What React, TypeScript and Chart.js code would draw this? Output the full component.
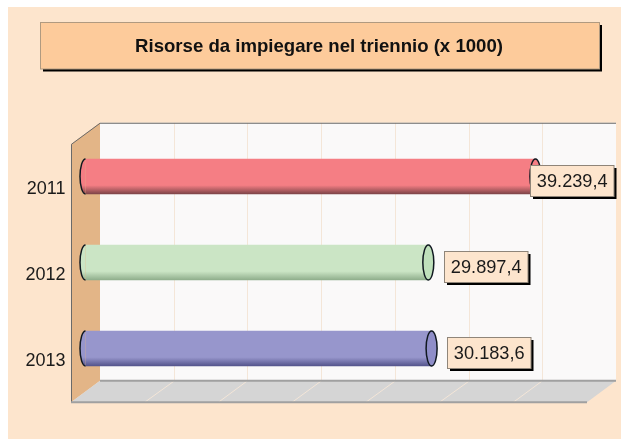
import React, { useEffect, useRef } from "react";
import { Chart, registerables } from "chart.js";

Chart.register(...registerables);

const titleText = "Risorse da impiegare nel triennio (x 1000)";
const categories = ["2011", "2012", "2013"];
const resources = [39239.4, 29897.4, 30183.6];
const valueLabels = ["39.239,4", "29.897,4", "30.183,6"];
const bodyColors = ["#f57e84", "#cbe5c5", "#9796cc"];
const edgeColors = ["#7d4448", "#8fae8c", "#54548c"];
const capColors = ["#f57e84", "#bfe0bb", "#8f8ec8"];
const axisMax = 45000;
const gridIntervals = 7;

const FONT = '"Liberation Sans", Arial, sans-serif';
const DEPTH_X = 14.5;
const DEPTH_Y = 10.75;

const scenePlugin = {
  id: "scene",
  beforeDraw(chart: any) {
    const { ctx, width, height, chartArea: a, scales } = chart;
    const backL = a.left + DEPTH_X, backR = a.right + DEPTH_X;
    const frontL = a.left - DEPTH_X, frontR = a.right - DEPTH_X;
    const top = a.top - DEPTH_Y, bottom = a.bottom - DEPTH_Y;
    const fTop = a.top + DEPTH_Y, fBottom = a.bottom + DEPTH_Y;
    ctx.save();
    ctx.fillStyle = "#ffffff";
    ctx.fillRect(0, 0, width, height);
    ctx.fillStyle = "#fde5cd";
    ctx.fillRect(8, 7, width - 8, height - 7);

    // title box
    ctx.fillStyle = "#000000";
    ctx.fillRect(43, 25, 559, 46.5);
    ctx.fillStyle = "#fdcb9b";
    ctx.strokeStyle = "#b09a80";
    ctx.lineWidth = 1;
    ctx.fillRect(40.5, 22.5, 559, 46.5);
    ctx.strokeRect(40.5, 22.5, 559, 46.5);
    ctx.fillStyle = "#111111";
    ctx.font = `bold 18.6px ${FONT}`;
    ctx.textAlign = "center";
    ctx.textBaseline = "middle";
    ctx.fillText(titleText, 319, 46.5);

    // back wall
    ctx.fillStyle = "#faf9f9";
    ctx.fillRect(backL, top, backR - backL, bottom - top);
    // left wall
    ctx.fillStyle = "#e3b587";
    ctx.beginPath();
    ctx.moveTo(frontL, fTop);
    ctx.lineTo(backL, top);
    ctx.lineTo(backL, bottom);
    ctx.lineTo(frontL, fBottom);
    ctx.closePath();
    ctx.fill();
    // floor
    ctx.fillStyle = "#d5d5d5";
    ctx.beginPath();
    ctx.moveTo(frontL, fBottom);
    ctx.lineTo(backL, bottom);
    ctx.lineTo(backR, bottom);
    ctx.lineTo(frontR, fBottom);
    ctx.closePath();
    ctx.fill();

    // grid lines from the value scale
    ctx.strokeStyle = "#f4e6d8";
    ctx.lineWidth = 1;
    for (const t of scales.x.ticks) {
      if (t.value <= 0 || t.value >= axisMax) continue;
      const x = scales.x.getPixelForValue(t.value);
      ctx.beginPath();
      ctx.moveTo(Math.round(x + DEPTH_X) + 0.5, top);
      ctx.lineTo(Math.round(x + DEPTH_X) + 0.5, bottom);
      ctx.lineTo(x - DEPTH_X, fBottom);
      ctx.stroke();
    }

    // edges
    ctx.strokeStyle = "#6a6a6a";
    ctx.lineWidth = 1;
    ctx.beginPath();
    ctx.moveTo(backR, top + 0.5);
    ctx.lineTo(backL, top + 0.5);
    ctx.lineTo(frontL + 0.5, fTop);
    ctx.lineTo(frontL + 0.5, fBottom);
    ctx.stroke();
    ctx.strokeStyle = "#a0a0a0";
    ctx.lineWidth = 2;
    ctx.beginPath();
    ctx.moveTo(backL, bottom);
    ctx.lineTo(backR, bottom);
    ctx.moveTo(frontL, fBottom);
    ctx.lineTo(frontR, fBottom);
    ctx.stroke();
    ctx.restore();
  },
  afterDatasetsDraw(chart: any) {
    const { ctx, chartArea: a } = chart;
    const meta = chart.getDatasetMeta(0);
    ctx.save();
    meta.data.forEach((bar: any, i: number) => {
      const rx = 5.5;
      const ry = bar.height / 2;
      // left cap: rounded end with a dark rim
      const g = ctx.createLinearGradient(0, bar.y - ry, 0, bar.y + ry);
      g.addColorStop(0, bodyColors[i]);
      g.addColorStop(0.75, bodyColors[i]);
      g.addColorStop(1, edgeColors[i]);
      ctx.fillStyle = g;
      ctx.beginPath();
      ctx.ellipse(bar.base, bar.y, rx, ry, 0, Math.PI / 2, (3 * Math.PI) / 2);
      ctx.closePath();
      ctx.fill();
      ctx.strokeStyle = "#101820";
      ctx.lineWidth = 1.5;
      ctx.beginPath();
      ctx.ellipse(bar.base, bar.y, rx, ry, 0, Math.PI / 2, (3 * Math.PI) / 2);
      ctx.stroke();
      // right cap
      ctx.fillStyle = capColors[i];
      ctx.beginPath();
      ctx.ellipse(bar.x, bar.y, rx, ry, 0, 0, Math.PI * 2);
      ctx.fill();
      ctx.stroke();
    });
    // value labels, kept inside the plot
    ctx.font = `18.2px ${FONT}`;
    ctx.textAlign = "center";
    ctx.textBaseline = "middle";
    meta.data.forEach((bar: any, i: number) => {
      const w = 83.5;
      const h = 31;
      const left = Math.round(Math.min(bar.x + 15.5, a.right + DEPTH_X - w - 2.5)) + 0.5;
      const top = Math.round(bar.y + 3.5 - h / 2) + 0.5;
      ctx.fillStyle = "#000000";
      ctx.fillRect(left + 2.5, top + 2.5, w, h);
      ctx.fillStyle = "#fde5cd";
      ctx.strokeStyle = "#8f8579";
      ctx.lineWidth = 1;
      ctx.fillRect(left, top, w, h);
      ctx.strokeRect(left, top, w, h);
      ctx.fillStyle = "#1a1a1a";
      ctx.fillText(valueLabels[i], left + w / 2, top + h / 2 + 0.5);
    });
    ctx.restore();
  },
};

export default function App() {
  const ref = useRef<HTMLCanvasElement | null>(null);
  useEffect(() => {
    const chart = new Chart(ref.current as HTMLCanvasElement, {
      type: "bar",
      data: {
        labels: categories,
        datasets: [
          {
            data: resources,
            barThickness: 35,
            borderWidth: 0,
            backgroundColor: (c: any) => {
              const ch = c.chart;
              if (!ch.chartArea || !ch.scales.y || c.dataIndex === undefined) return bodyColors[0];
              const y = ch.scales.y.getPixelForValue(c.dataIndex);
              const g = ch.ctx.createLinearGradient(0, y - 17.5, 0, y + 17.5);
              g.addColorStop(0, bodyColors[c.dataIndex]);
              g.addColorStop(0.75, bodyColors[c.dataIndex]);
              g.addColorStop(1, edgeColors[c.dataIndex]);
              return g;
            },
          },
        ],
      },
      options: {
        indexAxis: "y",
        animation: false,
        responsive: false,
        layout: { padding: { top: 133.5, right: 19.5, bottom: 47.5, left: 0 } },
        plugins: { legend: { display: false }, tooltip: { enabled: false } },
        scales: {
          x: {
            display: false,
            min: 0,
            max: axisMax,
            ticks: { stepSize: axisMax / gridIntervals },
          },
          y: {
            grid: { display: false },
            border: { display: false },
            afterFit: (s: any) => {
              s.width = 85.5;
            },
            ticks: {
              color: "#1a1a1a",
              padding: 12,
              labelOffset: 13,
              font: { family: FONT, size: 18 },
            },
          },
        },
      },
      plugins: [scenePlugin],
    } as any);
    return () => chart.destroy();
  }, []);
  return (
    <canvas
      ref={ref}
      width={621}
      height={439}
      style={{ position: "fixed", left: 0, top: 0, width: 621, height: 439, display: "block" }}
    />
  );
}
